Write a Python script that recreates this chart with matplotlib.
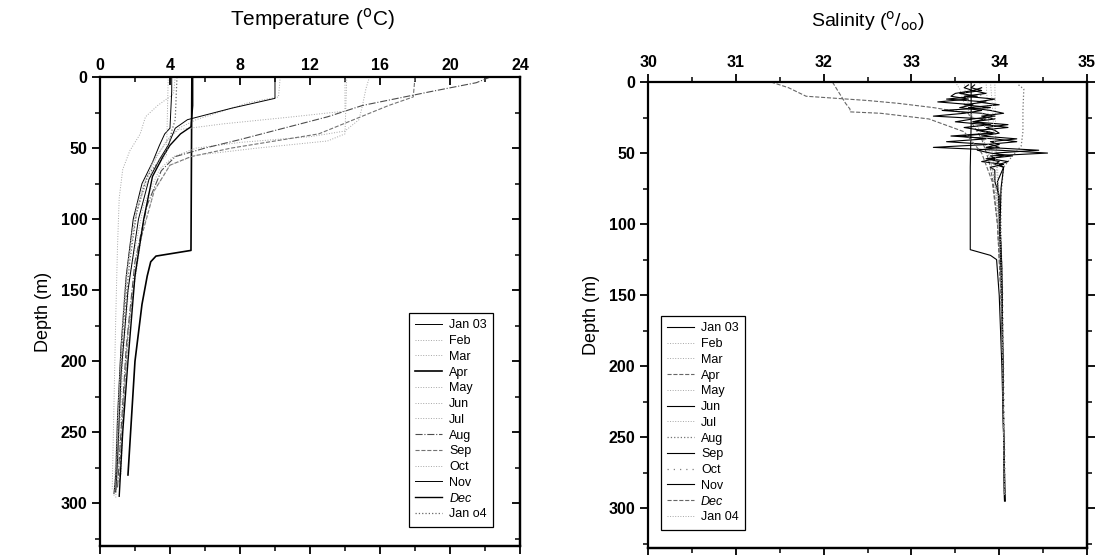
import numpy as np
import matplotlib
matplotlib.use('Agg')
import matplotlib.pyplot as plt
from matplotlib.ticker import MultipleLocator

plt.rcParams['font.family'] = ['Liberation Sans', 'DejaVu Sans']

months_t = ['Jan 03', 'Feb', 'Mar', 'Apr', 'May', 'Jun', 'Jul',
            'Aug', 'Sep', 'Oct', 'Nov', 'Dec', 'Jan o4']
months_s = ['Jan 03', 'Feb', 'Mar', 'Apr', 'May', 'Jun', 'Jul',
            'Aug', 'Sep', 'Oct', 'Nov', 'Dec', 'Jan 04']

# temperature profiles (depth in m, temperature in deg C)
t_dep_jan03 = [0, 10, 36, 40, 48, 60, 75, 100, 140, 190, 240, 280, 293]
t_jan03 = [4.1, 4.1, 4.0, 3.7, 3.4, 3.0, 2.4, 1.9, 1.5, 1.2, 1.0, 0.9, 0.8]
t_dep_feb = [0, 12, 20, 28, 40, 52, 65, 85, 120, 170, 230, 290]
t_feb = [4.3, 4.2, 3.3, 2.6, 2.3, 1.7, 1.3, 1.1, 1.0, 0.9, 0.8, 0.7]
t_dep_mar = [0, 55, 62, 70, 90, 130, 180, 240, 285]
t_mar = [3.9, 3.8, 3.3, 2.8, 2.2, 1.6, 1.3, 1.1, 1.0]
t_dep_apr = [0, 122, 126, 130, 140, 160, 200, 240, 280]
t_apr = [5.25, 5.2, 3.2, 2.9, 2.7, 2.4, 2.0, 1.8, 1.6]
t_dep_may = [0, 14, 18, 24, 30, 36, 45, 60, 90, 150, 220, 290]
t_may = [10.3, 10.2, 8.5, 7.0, 5.5, 4.5, 3.8, 3.0, 2.1, 1.4, 1.1, 0.9]
t_dep_jun = [0, 24, 28, 33, 37, 42, 55, 75, 110, 170, 240, 295]
t_jun = [14.0, 14.0, 11.0, 7.0, 4.5, 4.0, 3.3, 2.5, 1.8, 1.3, 1.0, 0.8]
t_dep_jul = [0, 8, 20, 30, 38, 42, 46, 50, 56, 65, 90, 140, 200, 260, 296]
t_jul = [15.4, 15.2, 15.0, 14.8, 14.0, 12.0, 8.0, 5.5, 4.2, 3.4, 2.5, 1.7, 1.3, 1.1, 0.9]
t_dep_aug = [0, 4, 10, 15, 20, 28, 36, 44, 50, 56, 66, 90, 130, 190, 250, 290]
t_aug = [22.3, 21.5, 19.0, 17.0, 15.0, 13.0, 10.5, 8.0, 6.0, 4.3, 3.5, 2.7, 2.0, 1.5, 1.2, 1.0]
t_dep_sep = [0, 14, 20, 30, 40, 45, 50, 56, 62, 80, 120, 180, 240, 285]
t_sep = [18.0, 17.9, 16.5, 14.5, 12.5, 10.0, 7.5, 5.2, 4.0, 3.1, 2.2, 1.6, 1.3, 1.1]
t_dep_oct = [0, 40, 45, 50, 55, 62, 80, 110, 160, 220, 280]
t_oct = [14.1, 14.0, 13.0, 9.0, 5.5, 4.0, 3.1, 2.4, 1.8, 1.4, 1.2]
t_dep_nov = [0, 15, 22, 30, 36, 48, 58, 72, 100, 150, 210, 270, 292]
t_nov = [10.0, 10.0, 7.5, 5.0, 4.3, 3.9, 3.4, 2.8, 2.2, 1.6, 1.2, 1.0, 0.9]
t_dep_dec = [0, 20, 35, 40, 48, 56, 70, 100, 140, 200, 250, 295]
t_dec = [5.3, 5.3, 5.2, 4.6, 4.0, 3.6, 3.0, 2.5, 2.0, 1.6, 1.3, 1.1]
t_dep_jan04 = [0, 30, 38, 50, 60, 70, 95, 130, 180, 240, 290]
t_jan04 = [4.4, 4.3, 4.1, 3.9, 3.3, 2.7, 2.1, 1.7, 1.3, 1.1, 0.9]

# salinity profiles (depth in m, salinity in permil)
s_dep_jan03 = [0, 30, 60, 90, 118, 122, 125, 150, 200, 250, 295]
s_jan03 = [33.68, 33.68, 33.67, 33.67, 33.67, 33.90, 33.97, 34.00, 34.03, 34.05, 34.06]
s_dep_feb = [0, 10, 30, 50, 70, 100, 150, 200, 250, 292]
s_feb = [33.85, 33.86, 33.88, 33.92, 33.96, 34.00, 34.02, 34.04, 34.05, 34.06]
s_dep_mar = [0, 40, 60, 80, 120, 180, 240, 290]
s_mar = [33.95, 33.96, 33.98, 34.00, 34.02, 34.04, 34.05, 34.06]
s_dep_apr = [0, 4, 10, 13, 15, 18, 22, 30, 40, 55, 70, 100, 150, 200, 250, 293]
s_apr = [31.4, 31.6, 31.8, 32.5, 32.85, 33.25, 33.65, 33.70, 33.80, 33.88, 33.93,
         33.98, 34.02, 34.04, 34.05, 34.06]
s_dep_may = [0, 5, 15, 30, 50, 70, 100, 150, 200, 290]
s_may = [33.50, 33.55, 33.60, 33.75, 33.88, 33.95, 33.98, 34.02, 34.04, 34.06]
s_dep_jun = [2, 4, 6, 8, 10, 12, 14, 16, 18, 20, 22, 24, 26, 28, 30, 32, 34, 36,
             38, 40, 42, 44, 46, 48, 50, 52, 54, 56, 58, 60, 62, 70, 80, 100,
             150, 200, 250, 290]
s_jun = [33.72, 33.68, 33.80, 33.55, 33.75, 33.40, 33.85, 33.60, 33.90, 33.35,
         33.80, 33.95, 33.70, 33.50, 33.85, 34.10, 33.75, 33.90, 33.45, 33.95,
         34.20, 33.85, 33.25, 34.00, 34.55, 33.90, 33.95, 33.80, 34.05, 33.90,
         33.95, 33.95, 34.00, 34.00, 34.03, 34.04, 34.05, 34.06]
s_dep_jul = [0, 10, 25, 40, 60, 80, 110, 160, 220, 288]
s_jul = [33.60, 33.62, 33.70, 33.82, 33.92, 33.97, 34.00, 34.03, 34.05, 34.06]
s_dep_aug = [2, 5, 20, 35, 45, 52, 60, 80, 100, 150, 200, 250, 290]
s_aug = [34.22, 34.28, 34.27, 34.27, 34.25, 34.15, 34.05, 34.02, 34.02, 34.03,
         34.04, 34.05, 34.06]
s_dep_sep = [2, 4, 6, 8, 10, 12, 14, 16, 18, 20, 22, 24, 26, 28, 30, 32, 34, 36,
             38, 40, 42, 44, 46, 48, 50, 52, 54, 56, 58, 60, 75, 100, 150, 200,
             250, 295]
s_sep = [33.65, 33.60, 33.70, 33.50, 33.45, 33.65, 33.30, 33.70, 33.55, 33.80,
         33.60, 33.25, 33.85, 33.70, 33.90, 33.60, 33.80, 33.95, 33.55, 33.85,
         33.40, 33.90, 34.00, 33.75, 33.90, 34.15, 33.85, 34.00, 33.95, 34.05,
         34.02, 34.01, 34.03, 34.04, 34.05, 34.07]
s_dep_oct = [0, 20, 40, 60, 80, 110, 150, 200, 250, 290]
s_oct = [33.78, 33.80, 33.86, 33.93, 33.98, 34.02, 34.04, 34.05, 34.06, 34.07]
s_dep_nov = [4, 6, 8, 10, 12, 14, 16, 18, 20, 22, 24, 26, 28, 30, 32, 34, 36, 38,
             40, 42, 44, 46, 48, 50, 52, 54, 56, 58, 60, 70, 90, 130, 180, 240, 294]
s_nov = [33.80, 33.70, 33.85, 33.60, 33.95, 33.75, 34.00, 33.65, 33.90, 34.05,
         33.80, 33.95, 33.70, 34.10, 33.85, 33.95, 34.00, 33.80, 34.20, 33.90,
         34.00, 33.85, 34.45, 33.95, 34.05, 33.90, 34.10, 34.00, 34.05, 33.98,
         34.00, 34.03, 34.04, 34.05, 34.06]
s_dep_dec = [0, 5, 10, 15, 19, 21, 22, 26, 35, 50, 70, 100, 150, 200, 250, 290]
s_dec = [32.10, 32.15, 32.20, 32.25, 32.30, 32.30, 32.65, 33.20, 33.60, 33.80,
         33.92, 33.98, 34.02, 34.04, 34.05, 34.06]
s_dep_jan04 = [0, 15, 35, 55, 75, 100, 150, 200, 250, 291]
s_jan04 = [33.90, 33.92, 33.94, 33.96, 33.99, 34.01, 34.03, 34.04, 34.05, 34.06]

temp_dep = [t_dep_jan03, t_dep_feb, t_dep_mar, t_dep_apr, t_dep_may, t_dep_jun,
            t_dep_jul, t_dep_aug, t_dep_sep, t_dep_oct, t_dep_nov, t_dep_dec, t_dep_jan04]
temp_val = [t_jan03, t_feb, t_mar, t_apr, t_may, t_jun, t_jul, t_aug, t_sep,
            t_oct, t_nov, t_dec, t_jan04]
sal_dep = [s_dep_jan03, s_dep_feb, s_dep_mar, s_dep_apr, s_dep_may, s_dep_jun,
           s_dep_jul, s_dep_aug, s_dep_sep, s_dep_oct, s_dep_nov, s_dep_dec, s_dep_jan04]
sal_val = [s_jan03, s_feb, s_mar, s_apr, s_may, s_jun, s_jul, s_aug, s_sep,
           s_oct, s_nov, s_dec, s_jan04]

faint = dict(color='0.65', ls=':', lw=0.7)
temp_styles = [dict(color='k', ls='-', lw=0.7), faint, faint,
               dict(color='k', ls='-', lw=1.2), faint, faint, faint,
               dict(color='0.3', ls='-.', lw=0.8), dict(color='0.45', ls='--', lw=0.8),
               faint, dict(color='k', ls='-', lw=0.7), dict(color='k', ls='-', lw=1.0),
               dict(color='0.4', ls=':', lw=0.9)]
sal_styles = [dict(color='k', ls='-', lw=0.8), faint, faint,
              dict(color='0.4', ls='--', lw=0.8), faint, dict(color='k', ls='-', lw=0.8),
              faint, dict(color='0.45', ls=':', lw=0.9), dict(color='k', ls='-', lw=0.8),
              dict(color='0.5', ls=(0, (1, 4)), lw=0.9), dict(color='k', ls='-', lw=0.8),
              dict(color='0.4', ls='--', lw=0.8), faint]

fig = plt.figure(figsize=(11.01, 5.55), dpi=100)
ax1 = fig.add_axes([0.0908, 0.0162, 0.3815, 0.845])
ax2 = fig.add_axes([0.5886, 0.0126, 0.3987, 0.8396])

for d, v, st, lab in zip(temp_dep, temp_val, temp_styles, months_t):
    ax1.plot(v, d, label=lab, **st)
for d, v, st, lab in zip(sal_dep, sal_val, sal_styles, months_s):
    ax2.plot(v, d, label=lab, **st)

ax1.set_xlim(0, 24)
ax1.set_ylim(330, 0)
ax2.set_xlim(30, 35)
ax2.set_ylim(328, 0)


def style_axes(ax, xmaj, xmin, top_dir, right_dir):
    ax.xaxis.set_major_locator(MultipleLocator(xmaj))
    ax.xaxis.set_minor_locator(MultipleLocator(xmin))
    ax.yaxis.set_major_locator(MultipleLocator(50))
    ax.yaxis.set_minor_locator(MultipleLocator(25))
    ax.tick_params(axis='x', which='both', top=True, bottom=False, labeltop=True,
                   labelbottom=False, direction=top_dir)
    ax.tick_params(axis='y', which='both', left=True, right=False, direction='out')
    ax.tick_params(which='major', length=6, width=1.3, labelsize=11.5, pad=3)
    ax.tick_params(which='minor', length=3.5, width=1.1)
    for s in ax.spines.values():
        s.set_linewidth(1.6)
    sx = ax.secondary_xaxis('bottom')
    sx.xaxis.set_major_locator(MultipleLocator(xmaj))
    sx.xaxis.set_minor_locator(MultipleLocator(xmin))
    sx.tick_params(which='both', direction='out', labelbottom=False)
    sx.tick_params(which='major', length=6, width=1.3)
    sx.tick_params(which='minor', length=3.5, width=1.1)
    sx.spines['bottom'].set_linewidth(1.6)
    sy = ax.secondary_yaxis('right')
    sy.yaxis.set_major_locator(MultipleLocator(50))
    sy.yaxis.set_minor_locator(MultipleLocator(25))
    sy.tick_params(which='both', direction=right_dir, labelright=False)
    sy.tick_params(which='major', length=6, width=1.3)
    sy.tick_params(which='minor', length=3.5, width=1.1)
    sy.spines['right'].set_linewidth(1.6)
    for lab in ax.get_xticklabels() + ax.get_yticklabels():
        lab.set_fontweight('bold')
    ax.set_ylabel('Depth (m)', fontsize=13, labelpad=6)


style_axes(ax1, 4, 2, 'in', 'in')
style_axes(ax2, 1, 0.5, 'out', 'out')

fig.text(0.284, 0.966, 'Temperature ($^{\\rm o}$C)', ha='center', va='center', fontsize=15)
fig.text(0.788, 0.962, 'Salinity ($^{\\rm o}$/$_{\\rm oo}$)', ha='center', va='center',
         fontsize=14)

leg_kw = dict(fontsize=9, labelspacing=0.3, handlelength=2.1, handletextpad=0.6,
              borderpad=0.5, fancybox=False, framealpha=1, edgecolor='k',
              borderaxespad=0)
leg1 = ax1.legend(loc='upper right', bbox_to_anchor=(0.4478, 0.436),
                  bbox_transform=fig.transFigure, **leg_kw)
leg2 = ax2.legend(loc='upper left', bbox_to_anchor=(0.6004, 0.4306),
                  bbox_transform=fig.transFigure, **leg_kw)
for leg in (leg1, leg2):
    leg.get_frame().set_linewidth(0.9)
    leg.get_texts()[11].set_style('italic')

fig.savefig('out.png', dpi=100)
